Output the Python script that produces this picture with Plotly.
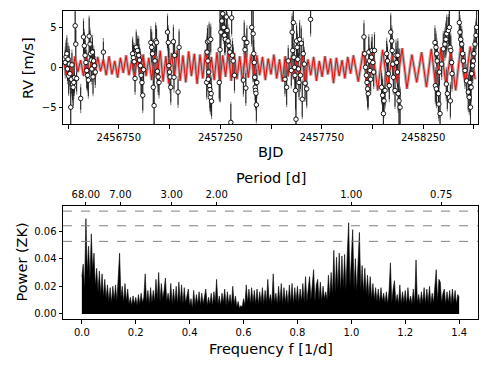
import numpy as np
import plotly.graph_objects as go

rv_time = [
    2456486, 2456490, 2456494, 2456497, 2456500, 2456503, 2456506, 2456509, 2456513, 2456516,
    2456519, 2456522, 2456525, 2456528, 2456531, 2456535, 2456538, 2456542,
    2456562, 2456576, 2456580, 2456584, 2456588, 2456592, 2456596, 2456600, 2456604, 2456608,
    2456611, 2456614, 2456617, 2456620, 2456623, 2456626, 2456630, 2456634, 2456674,
    2456818, 2456822, 2456826, 2456830, 2456836, 2456842, 2456848, 2456852, 2456856, 2456860,
    2456864, 2456868, 2456872,
    2456908, 2456912, 2456916, 2456920, 2456924, 2456928, 2456932, 2456936, 2456940, 2456944,
    2456948, 2456990, 2456994, 2456997, 2457000, 2457003, 2457006, 2457019, 2457022, 2457025,
    2457042, 2457047,
    2457183, 2457185, 2457187, 2457189, 2457191, 2457193, 2457195, 2457197, 2457199, 2457201,
    2457203, 2457205, 2457207,
    2457245, 2457249, 2457253, 2457258, 2457262, 2457267, 2457271, 2457275, 2457280, 2457284,
    2457288, 2457293, 2457297, 2457302, 2457306, 2457310, 2457314, 2457320,
    2457364, 2457368, 2457372, 2457376, 2457381, 2457405, 2457412, 2457415, 2457418, 2457420,
    2457422, 2457424, 2457426, 2457428, 2457430,
    2457569, 2457577, 2457585, 2457600, 2457604, 2457607, 2457610, 2457613, 2457616, 2457618,
    2457621, 2457623, 2457626, 2457629, 2457632, 2457635, 2457638, 2457641, 2457645, 2457649,
    2457654, 2457659, 2457664, 2457668, 2457676, 2457695,
    2457958, 2457962, 2457966, 2457970, 2457973, 2457976, 2457979, 2457982, 2457985, 2457988,
    2457991, 2457995, 2457998, 2458002, 2458006, 2458010,
    2458045, 2458050, 2458054, 2458057, 2458062, 2458070, 2458074, 2458078, 2458083, 2458090,
    2458095, 2458097, 2458100, 2458103, 2458111, 2458116, 2458119, 2458123, 2458125, 2458127,
    2458131, 2458136,
    2458308, 2458310, 2458313, 2458315, 2458317, 2458319, 2458325, 2458327, 2458330, 2458333,
    2458341, 2458349, 2458357, 2458362, 2458364, 2458366, 2458369, 2458374, 2458379, 2458382,
    2458384, 2458386, 2458390, 2458392,
    2458428, 2458431, 2458435, 2458440, 2458444, 2458448, 2458456, 2458464, 2458472, 2458477,
    2458480, 2458483, 2458486, 2458489, 2458494, 2458497, 2458500, 2458505, 2458510, 2458513,
]
rv_value = [
    0.6, 1.3, 1.7, -0.2, 1.0, -1.1, 0.4, -0.8, -5.0, -1.5,
    0.3, -2.1, -2.5, -1.9, -1.3, 5.2, 2.9, -1.4,
    -3.9, 3.8, 2.7, 1.5, 0.6, -0.4, -1.0, -1.6, 3.9, 2.9,
    1.7, 0.9, -0.2, 1.9, -1.2, 0.8, 0.2, -0.6, 1.9,
    1.7, 1.2, 0.7, -1.4, 2.5, 2.1, 1.5, 0.9, 0.2, -1.0,
    -1.9, -3.5, -0.3,
    3.1, 2.5, 1.7, -2.5, -4.8, 0.8, 3.3, 3.1, -0.5, -1.2,
    -1.9, 4.4, 3.1, 0.2, -0.6, -1.2, -2.5, 3.2, -1.25, 1.5,
    -3.1, 2.5,
    -1.9, 1.9, 3.2, 0.8, -1.5, -0.6, 3.3, -2.3, -2.8, -3.75,
    3.5, -3.3, -4.25,
    -1.9, 2.2, 4.4, 5.8, 6.7, 5.0, 4.0, 3.5, 6.3, 4.6,
    3.3, 2.7, 1.9, -6.9, 6.2, 1.5, 0.8, -1.0,
    -1.6, 3.6, 2.2, -2.6, 3.1, 5.0, 4.2, 1.7, 0.6, -1.25,
    -2.5, -2.9, -3.25, -4.7, -1.9,
    -1.5, -2.5, 0.8, -0.4, 4.4, 2.1, 5.6, 1.25, 0.0, -1.0,
    -2.9, -6.5, 3.3, 2.5, 1.0, -0.2, -1.9, 3.5, -1.0, 3.0,
    -4.0, 1.7, 0.4, -2.0, -2.7, 6.0,
    3.8, 1.7, 0.0, -1.0, -1.9, -2.7, -3.3, 1.9, 0.8, -0.4,
    -1.5, 1.25, 2.1, 0.6, -0.6, 2.1,
    -2.5, -3.5, -5.8, -4.2, -2.9, 1.7, 0.8, -0.8, -2.3, 4.4,
    3.3, 2.1, 0.4, -1.25, -2.9, 1.5, 0.6, -0.6, 1.5, -3.3,
    -4.2, -5.0,
    3.1, -2.3, 2.5, -2.7, 1.7, 0.8, -3.3, -4.6, -0.6, -5.8,
    0.4, 2.3, 2.9, 3.5, -2.1, 4.2, -3.3, 4.6, 5.0, 2.5,
    -4.2, 2.1, 0.6, -0.8,
    5.6, 4.4, 3.5, 2.9, 1.7, 0.8, -0.4, -1.7, -3.1, -3.75,
    -1.9, -5.0, -2.5, -0.8, 0.2, 0.8, 1.7, 2.9, 4.0, 5.0,
]
rv_error = [
    1.6, 1.8, 2.0, 1.5, 1.7, 2.2, 1.9, 1.6, 2.4, 1.8,
    1.5, 2.0, 2.3, 1.7, 1.9, 2.1, 1.8, 1.6,
    1.4, 2.0, 1.7, 1.9, 1.6, 2.2, 1.8, 2.0, 2.3, 1.7,
    1.5, 1.9, 1.6, 1.8, 2.1, 1.5, 1.7, 1.6, 1.3,
    1.8, 1.6, 2.0, 1.7, 1.9, 1.5, 2.1, 1.6, 1.8, 2.2,
    1.7, 1.9, 1.5,
    1.7, 1.9, 1.6, 2.1, 7.0, 1.8, 2.0, 1.7, 1.5, 1.9,
    1.6, 2.0, 1.8, 2.2, 1.6, 1.7, 1.9, 1.8, 1.5, 1.7,
    1.6, 2.0,
    1.8, 2.0, 1.7, 2.2, 1.6, 1.9, 2.1, 1.7, 2.3, 1.8,
    1.6, 2.0, 1.9,
    2.0, 6.5, 1.8, 2.1, 1.9, 1.7, 2.2, 1.6, 1.8, 2.0,
    1.7, 1.9, 1.6, 2.3, 2.0, 1.8, 1.7, 1.9,
    1.7, 2.0, 1.6, 1.9, 1.8, 2.1, 6.0, 1.7, 1.5, 1.9,
    1.6, 2.2, 1.8, 2.0, 1.7,
    1.8, 2.2, 1.6, 1.9, 2.0, 1.7, 2.1, 1.8, 1.6, 1.9,
    2.3, 7.5, 1.9, 1.7, 1.6, 2.0, 1.8, 2.1, 1.7, 1.9,
    2.2, 1.6, 1.8, 2.0, 2.1, 1.8,
    1.7, 1.9, 1.6, 1.8, 2.0, 2.3, 1.7, 1.9, 1.6, 1.8,
    1.5, 1.9, 1.7, 1.6, 1.8, 2.0,
    1.8, 2.0, 2.2, 1.7, 1.9, 1.6, 1.8, 2.0, 1.7, 2.1,
    1.6, 1.9, 1.7, 1.8, 2.0, 1.6, 1.7, 1.9, 1.8, 2.1,
    6.5, 2.3,
    1.8, 2.0, 1.7, 2.1, 1.6, 1.9, 2.2, 1.8, 1.7, 2.3,
    1.6, 1.9, 1.7, 2.0, 1.8, 2.1, 1.9, 1.7, 2.2, 1.6,
    2.0, 1.8, 1.7, 1.9,
    2.0, 1.8, 1.7, 1.9, 1.6, 1.8, 2.0, 1.7, 2.2, 1.9,
    1.6, 6.0, 1.8, 1.7, 1.9, 1.6, 1.8, 2.0, 1.7, 2.1,
]
rv_jitter = 1.2

# model curve (m/s) on a time grid
model_time = np.concatenate([
    np.arange(2456478, 2456899, 14),
    np.arange(2456912, 2457403, 14),
    np.arange(2457416, 2457907, 14),
    np.arange(2457930, 2458507, 24),
])
model_rv = [
    0.8, -0.9, 1.2, -1.0, 1.4, -0.6, 0.9, -1.1, 1.5, -0.8,
    1.1, -1.2, 1.3, -0.5, 1.0, -1.0, 1.4, -0.9, 0.8, -1.3,
    1.2, -0.7, 1.5, -1.0, 0.9, -1.2, 1.3, -0.8, 1.6, -1.1, 1.2,
    -1.6, 1.9, -1.2, 2.1, -1.8, 1.4, -2.0, 1.8, -1.3, 2.2,
    -1.7, 1.5, -1.9, 2.0, -1.1, 1.7, -2.1, 1.6, -1.4, 2.2,
    -1.8, 1.3, -1.6, 1.9, -2.0, 1.5, -1.2, 2.1, -1.7, 1.8,
    -1.5, 1.4, -1.9, 2.0, -1.3, 1.6,
    -1.2, 1.5, -1.0, 1.3, -1.6, 1.1, -0.9, 1.6, -1.4, 1.0,
    -1.8, 1.4, -1.1, 1.2, -1.5, 0.9, -1.3, 1.5, -2.2, 1.0,
    -1.0, 1.3, -1.7, 0.8, -1.2, 1.4, -0.9, 1.1, -2.0, 1.2,
    -1.1, 0.9, -1.4, 1.3, -0.8, 1.5,
    -1.8, 2.0, -2.6, 1.8, -2.9, 2.2, -2.4, 1.5, -2.0, 2.4,
    -2.7, 1.6, -1.9, 1.9, -2.5, 2.3, -2.8, 2.5, -2.2, 1.8,
    -2.9, 2.4, -2.0, 2.6, -1.5,
]

# periodogram (frequency grid 0..1.4 1/d, step 0.005)
freq = np.linspace(0, 1.4, 281)
power = [
    0.027, 0.036, 0.018, 0.069, 0.030, 0.049, 0.025, 0.058, 0.032, 0.044,
    0.020, 0.033, 0.016, 0.031, 0.014, 0.029, 0.012, 0.025, 0.011, 0.021,
    0.009, 0.019, 0.008, 0.020, 0.010, 0.021, 0.009, 0.023, 0.044, 0.012,
    0.020, 0.008, 0.022, 0.009, 0.018, 0.007, 0.012, 0.006, 0.013, 0.007,
    0.012, 0.006, 0.014, 0.007, 0.015, 0.008, 0.012, 0.029, 0.008, 0.017,
    0.007, 0.019, 0.008, 0.017, 0.009, 0.025, 0.010, 0.030, 0.009, 0.022,
    0.011, 0.017, 0.026, 0.009, 0.015, 0.008, 0.022, 0.007, 0.018, 0.008,
    0.020, 0.007, 0.023, 0.008, 0.021, 0.007, 0.019, 0.008, 0.012, 0.018,
    0.006, 0.011, 0.004, 0.017, 0.006, 0.014, 0.007, 0.016, 0.006, 0.015,
    0.007, 0.014, 0.018, 0.006, 0.012, 0.007, 0.015, 0.006, 0.016, 0.008,
    0.025, 0.007, 0.013, 0.006, 0.015, 0.008, 0.018, 0.006, 0.016, 0.007,
    0.014, 0.006, 0.020, 0.007, 0.013, 0.005, 0.009, 0.004, 0.006, 0.005,
    0.011, 0.006, 0.021, 0.008, 0.018, 0.007, 0.019, 0.008, 0.017, 0.007,
    0.018, 0.007, 0.016, 0.008, 0.019, 0.007, 0.017, 0.008, 0.025, 0.009,
    0.014, 0.007, 0.029, 0.008, 0.015, 0.007, 0.020, 0.008, 0.022, 0.007,
    0.019, 0.008, 0.017, 0.007, 0.021, 0.008, 0.022, 0.007, 0.019, 0.009,
    0.020, 0.008, 0.018, 0.009, 0.022, 0.008, 0.027, 0.009, 0.021, 0.027,
    0.010, 0.024, 0.032, 0.009, 0.021, 0.025, 0.010, 0.023, 0.009, 0.020,
    0.011, 0.016, 0.010, 0.028, 0.012, 0.030, 0.014, 0.046, 0.015, 0.041,
    0.018, 0.044, 0.016, 0.042, 0.019, 0.043, 0.017, 0.044, 0.066, 0.020,
    0.039, 0.061, 0.018, 0.040, 0.016, 0.036, 0.059, 0.017, 0.035, 0.015,
    0.033, 0.014, 0.028, 0.012, 0.027, 0.011, 0.022, 0.010, 0.019, 0.009,
    0.018, 0.008, 0.019, 0.009, 0.015, 0.008, 0.016, 0.007, 0.017, 0.037,
    0.008, 0.018, 0.024, 0.008, 0.014, 0.007, 0.021, 0.007, 0.016, 0.008,
    0.017, 0.007, 0.019, 0.008, 0.013, 0.007, 0.018, 0.007, 0.039, 0.008,
    0.014, 0.007, 0.016, 0.008, 0.019, 0.007, 0.018, 0.008, 0.020, 0.007,
    0.015, 0.008, 0.021, 0.032, 0.009, 0.025, 0.023, 0.008, 0.015, 0.018,
    0.007, 0.016, 0.008, 0.017, 0.007, 0.018, 0.008, 0.017, 0.007, 0.014,
    0.012,
]
fap_levels = [0.0744, 0.0638, 0.0525]
period_ticks = [68, 7, 3, 2, 1, 0.75]

tick_font = dict(family="DejaVu Sans", size=10, color="black")
title_font = dict(family="DejaVu Sans", size=14.5, color="black")

gray_err = np.hypot(rv_error, rv_jitter)

fig = go.Figure()
fig.add_trace(go.Scatter(x=rv_time, y=rv_value, mode="markers",
                         marker=dict(size=1, color="rgba(0,0,0,0)"),
                         error_y=dict(type="data", array=gray_err, color="#8f8f8f", thickness=1.2, width=0),
                         xaxis="x", yaxis="y"))
fig.add_trace(go.Scatter(x=rv_time, y=rv_value, mode="markers",
                         marker=dict(size=1, color="rgba(0,0,0,0)"),
                         error_y=dict(type="data", array=rv_error, color="#1a1a1a", thickness=0.9, width=0),
                         xaxis="x", yaxis="y"))
fig.add_trace(go.Scatter(x=model_time, y=model_rv, mode="lines",
                         line=dict(color="rgba(128,128,128,0.6)", width=3.2),
                         xaxis="x", yaxis="y"))
fig.add_trace(go.Scatter(x=model_time, y=model_rv, mode="lines",
                         line=dict(color="#ee1111", width=1.1),
                         xaxis="x", yaxis="y"))
fig.add_trace(go.Scatter(x=rv_time, y=rv_value, mode="markers",
                         marker=dict(size=4.5, color="white", line=dict(color="black", width=0.9)),
                         xaxis="x", yaxis="y"))

fig.add_trace(go.Scatter(x=freq, y=power, mode="lines", fill="tozeroy",
                         line=dict(color="black", width=0.6), fillcolor="black",
                         xaxis="x2", yaxis="y2"))
# invisible trace so the period axis on top gets drawn
fig.add_trace(go.Scatter(x=[freq[0]], y=[power[0]], mode="markers", marker=dict(opacity=0),
                         hoverinfo="skip", xaxis="x3", yaxis="y2"))

for lvl in fap_levels:
    fig.add_shape(type="line", xref="x2 domain", x0=0, x1=1, yref="y2", y0=lvl, y1=lvl,
                  line=dict(color="#808080", width=1, dash="dash"))

axis_common = dict(showline=True, linecolor="black", linewidth=1, mirror=True,
                   ticks="outside", ticklen=3.5, tickwidth=0.8, tickcolor="black",
                   showgrid=False, zeroline=False, tickfont=tick_font, automargin=False)

bjd_ticks = list(range(2456500, 2458501, 250))
bjd_text = [str(t) if (t - 2456750) % 500 == 0 else "" for t in bjd_ticks]
xdom = [63 / 490, 478 / 490]


def label(text, x, y, angle=0):
    # axis titles placed in pixel positions measured on the reference
    return dict(text=text, x=x / 490, y=1 - y / 368, xref="paper", yref="paper",
                xanchor="center", yanchor="middle", textangle=angle,
                showarrow=False, font=title_font)


fig.update_layout(
    template="none",
    width=490, height=368, margin=dict(l=0, r=0, t=0, b=0),
    paper_bgcolor="white", plot_bgcolor="white", showlegend=False,
    xaxis=dict(axis_common, domain=xdom, anchor="y", range=[2456475, 2458520],
               tickvals=bjd_ticks, ticktext=bjd_text),
    yaxis=dict(axis_common, domain=[244 / 368, 357 / 368], anchor="x", range=[-7.1, 7.05],
               tickvals=[-5, 0, 5], ticktext=["\u22125", "0", "5"]),
    xaxis2=dict(axis_common, domain=xdom, anchor="y2", range=[-0.07, 1.47],
                tickvals=[0, 0.2, 0.4, 0.6, 0.8, 1.0, 1.2, 1.4],
                ticktext=["0.0", "0.2", "0.4", "0.6", "0.8", "1.0", "1.2", "1.4"]),
    yaxis2=dict(axis_common, domain=[49 / 368, 162 / 368], anchor="x2", range=[-0.0037, 0.0781],
                tickvals=[0, 0.02, 0.04, 0.06], ticktext=["0.00", "0.02", "0.04", "0.06"]),
    xaxis3=dict(overlaying="x2", side="top", anchor="y2", domain=xdom, range=[-0.07, 1.47],
                showline=False, showgrid=False, zeroline=False, automargin=False,
                ticks="outside", ticklen=3.5, tickwidth=0.8, tickcolor="black", tickfont=tick_font,
                tickvals=[1 / p for p in period_ticks],
                ticktext=[f"{p:.2f}" for p in period_ticks]),
    annotations=[
        label("RV [m/s]", 28, 68, -90),
        label("BJD", 270.5, 152),
        label("Power (ZK)", 21, 262.5, -90),
        label("Frequency f [1/d]", 270.5, 349),
        label("Period [d]", 270.5, 178),
    ],
)

fig.write_html("out.html", config={"displayModeBar": False},
               post_script="document.body.style.margin='0px';")
